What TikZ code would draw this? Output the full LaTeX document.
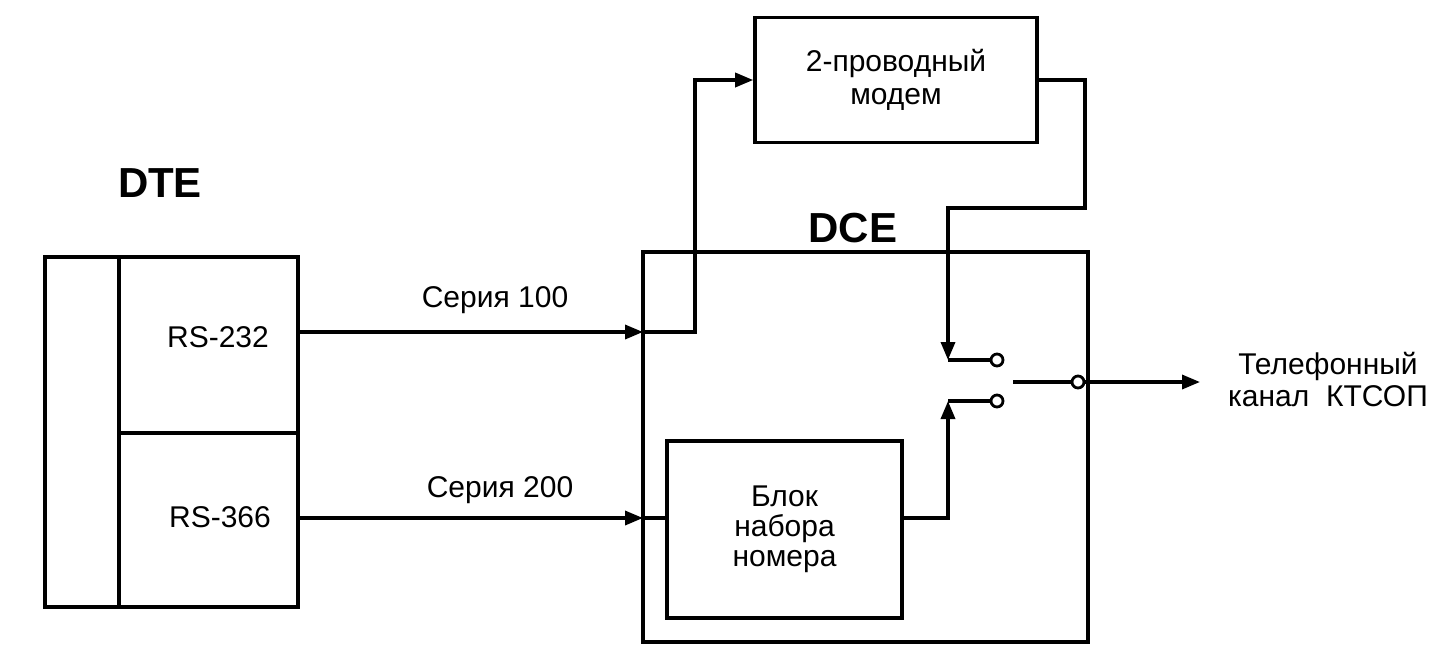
\documentclass[tikz,border=0pt]{standalone}
\usepackage{fontspec}
\setmainfont{Liberation Sans}
\usetikzlibrary{arrows.meta}
\begin{document}
\begin{tikzpicture}[x=0.5pt,y=-0.5pt,
  every node/.style={font=\fontsize{15}{16}\selectfont, inner sep=0pt},
  box/.style={draw, line width=1.8pt, align=center},
  wire/.style={line width=1.7pt},
  arr/.style={wire, -{Triangle[length=9pt,width=7pt]}},
  contact/.style={circle, draw, fill=white, line width=1.4pt, minimum size=6pt},
  big/.style={font=\fontsize{21}{24}\selectfont\bfseries},
  lbl/.style={align=center}]
\useasboundingbox (0,0) rectangle (1450,670);
% DTE
\node[box, minimum width=37pt, minimum height=175pt] (strip) at (82,432) {};
\node[box, minimum width=89.5pt, minimum height=88pt] (rs232) at (208.5,345) {};
\node[box, minimum width=89.5pt, minimum height=87pt] (rs366) at (208.5,520) {};
\node (t232) at (218,337) {RS-232};
\node (t366) at (220,517) {RS-366};
\node[big] (dte) at (160,183) {DTE};
% DCE
\node[box, minimum width=222.5pt, minimum height=195pt] (dce) at (865.5,447) {};
\node[big] (dcel) at (853,228) {DCE};
\node[box, minimum width=141pt, minimum height=62.5pt, font=\fontsize{15}{16.5}\selectfont] (modem) at (896,80) {2-проводный\\модем};
\node[box, minimum width=117.5pt, minimum height=88.5pt, font=\fontsize{15}{15}\selectfont] (blok) at (784.5,529.5) {Блок\\набора\\номера};
% coordinates
\coordinate (a1) at (643,332);
\coordinate (a2) at (643,518);
\coordinate (k1) at (948,360);
\coordinate (k2) at (948,401);
\coordinate (b2) at (948,518);
\coordinate (sw) at (1013,382);
\coordinate (out) at (1200,382);
% series 100
\draw[arr] (rs232.east |- a1) -- (a1);
\draw[arr] (a1) -- (695,332) |- (modem.west);
\node (s100) at (495,300) {Серия 100};
% series 200
\draw[arr] (rs366.east |- a2) -- (a2);
\draw[wire] (a2) -- (blok.west |- a2);
\node (s200) at (500,490) {Серия 200};
% modem to switch
\draw[arr] (modem.east) -| (1085,208) -| (k1);
\draw[arr] (blok.east |- b2) -| (k2);
\node[contact] (c1) at (997,360) {};
\node[contact] (c2) at (997,401) {};
\draw[wire] (k1) -- (c1.west);
\draw[wire] (k2) -- (c2.west);
\node[contact] (c0) at (1078,382) {};
\draw[wire] (sw) -- (c0.west);
\draw[arr] (c0.east) -- (out);
\node[lbl] (tel) at (1328,380) {Телефонный\\канал\ \ КТСОП};
\end{tikzpicture}
\end{document}
